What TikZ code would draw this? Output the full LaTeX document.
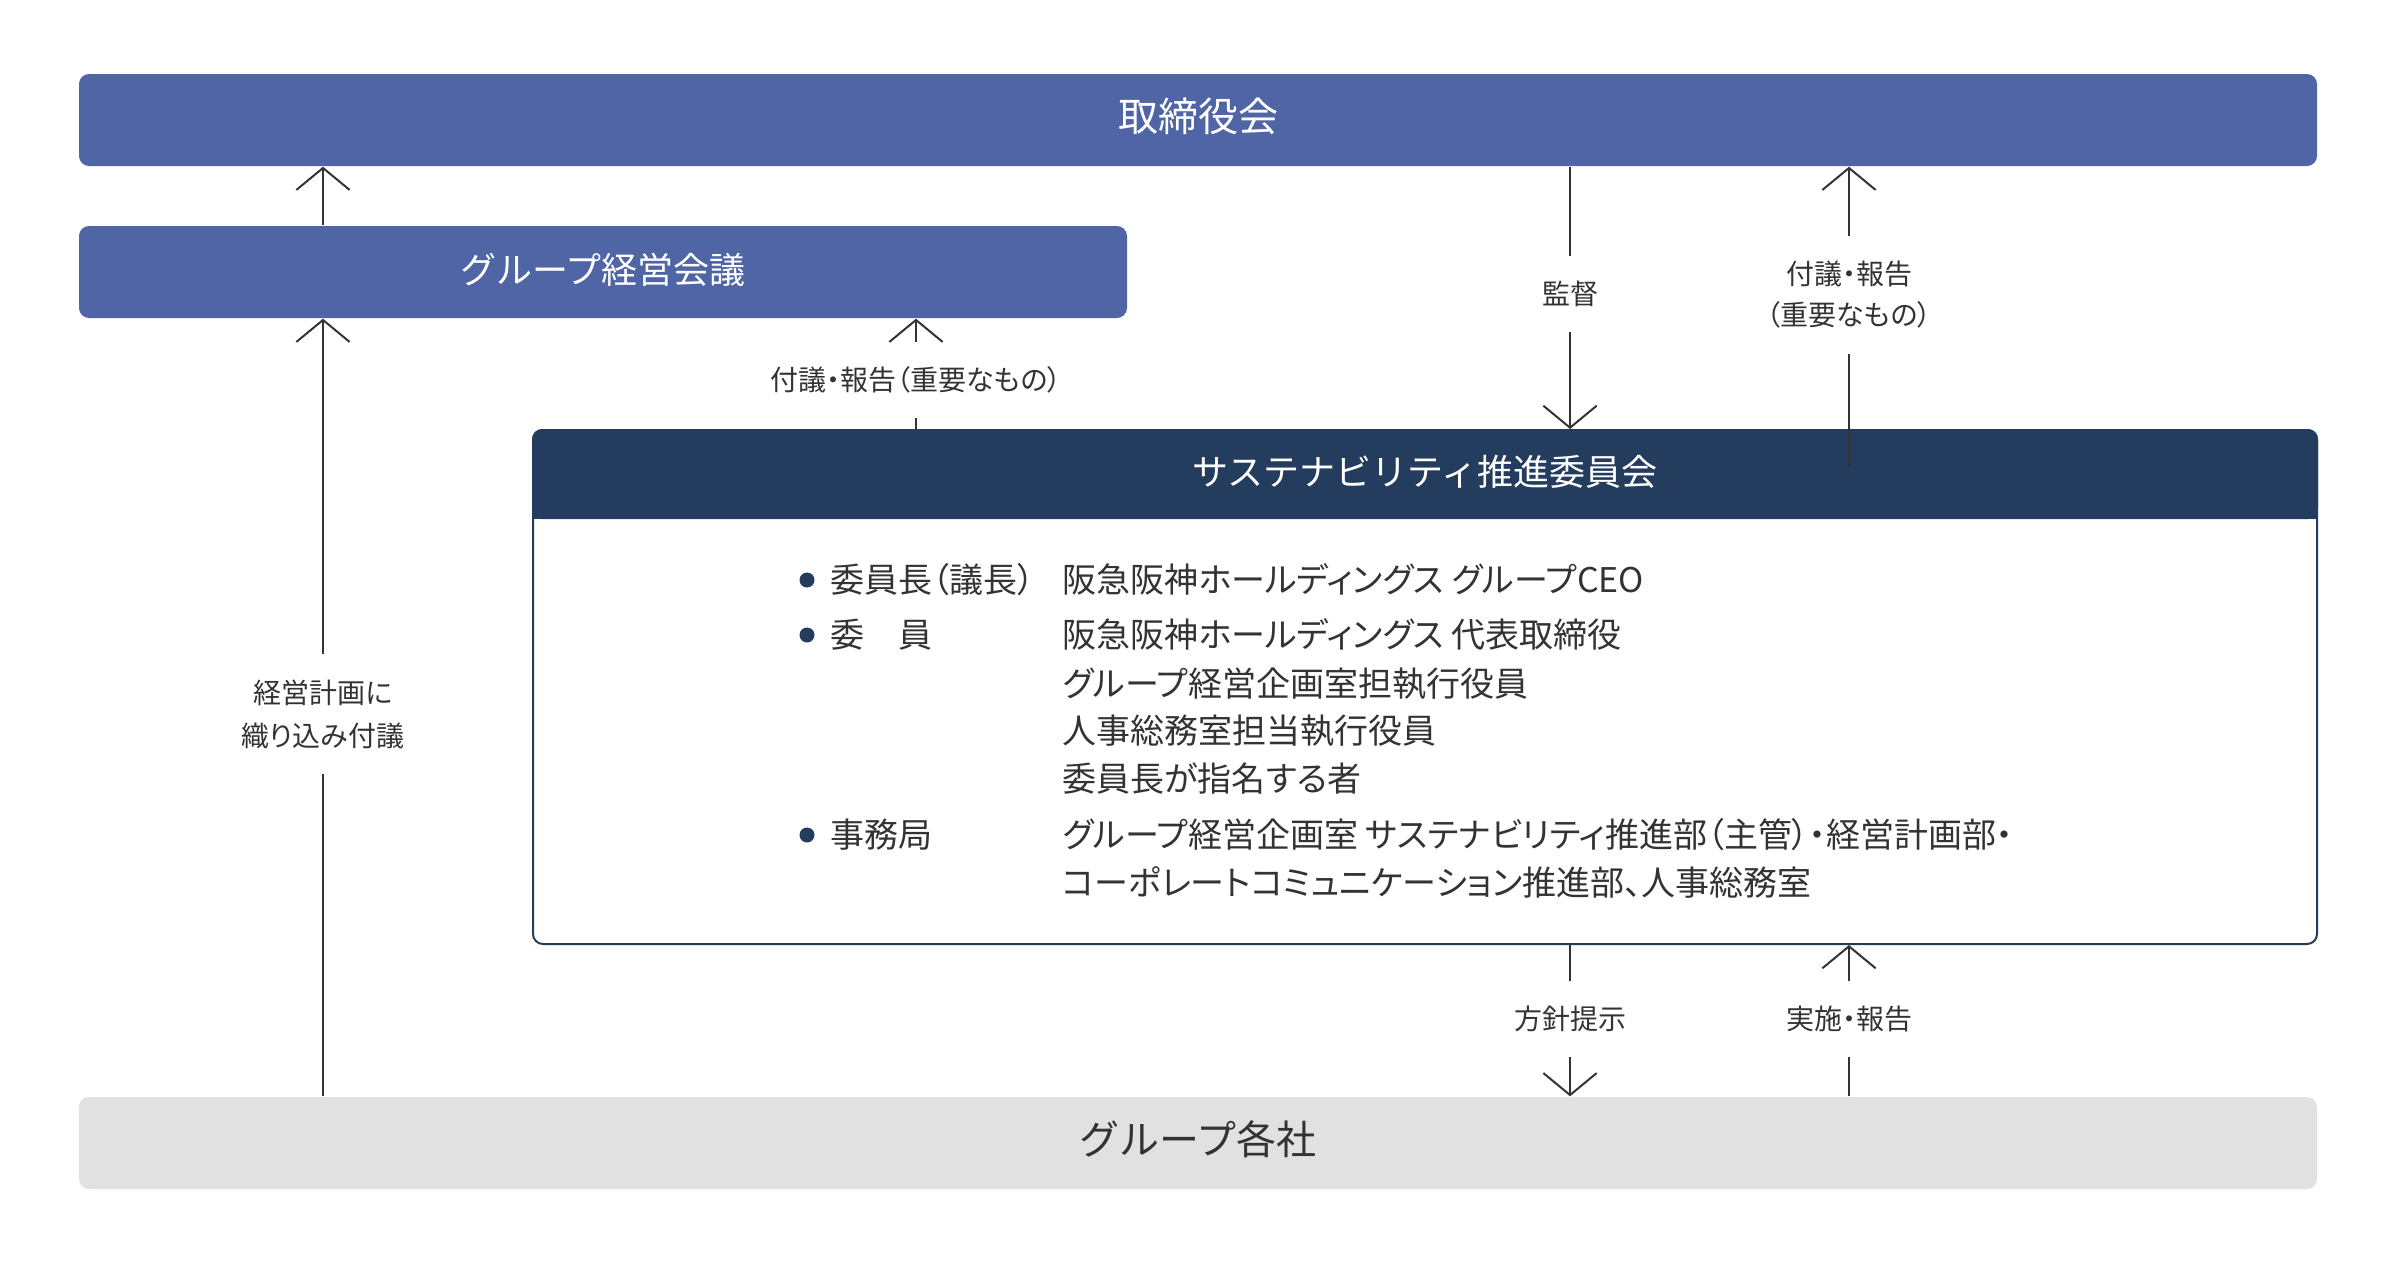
\documentclass[tikz,border=0pt]{standalone}
\usepackage{fontspec}
\setmainfont{Noto Sans CJK JP}
\newfontfamily\jp{Noto Sans CJK JP}
\newfontfamily\jpp[RawFeature=+palt]{Noto Sans CJK JP}
\usetikzlibrary{arrows.meta}
\definecolor{cblue}{HTML}{4F65A5}
\definecolor{cnavy}{HTML}{243C5E}
\definecolor{cgray}{HTML}{E1E1E1}
\definecolor{ctext}{HTML}{333333}
\definecolor{cline}{HTML}{333333}
\tikzset{
  bigbox/.style={rounded corners=3pt, minimum height=27.6pt, inner sep=0pt,
    text height=0.81em, text depth=0.11em},
  bluebox/.style={bigbox, fill=cblue, text=white},
  graybox/.style={bigbox, fill=cgray, text=ctext, font=\jp\fontsize{12}{14}\selectfont},
  lbl/.style={font=\jpp\fontsize{8.4}{12.6}\selectfont, text=ctext, inner xsep=0pt,
    inner ysep=7.3pt, align=center},
  bodytxt/.style={font=\jpp\fontsize{10.2}{12}\selectfont, text=ctext, inner sep=0pt,
    anchor=west, text height=0.84em, text depth=0.08em},
  dot/.style={circle, fill=cnavy, minimum size=4.5pt, inner sep=0pt},
  ln/.style={draw=cline, line width=0.6pt},
  arr/.style={ln, -{Straight Barb[length=6.6pt,width=16pt]}},
}
\begin{document}
\begin{tikzpicture}[x=0.3pt,y=-0.3pt]
\useasboundingbox (0,0) rectangle (2400,1262);
% boxes
\node[bluebox, minimum width=671.4pt, font=\jp\fontsize{12}{14}\selectfont] (board) at (1198,120) {取締役会};
\node[bluebox, minimum width=314.4pt, font=\jp\fontsize{10.8}{13}\selectfont] (gm) at (603,272) {グループ経営会議};
\node[draw=cnavy, fill=white, line width=0.6pt, rounded corners=3pt, minimum width=535.2pt,
  minimum height=154.2pt, inner sep=0pt] (sbox) at (1425,687) {};
\fill[cnavy, rounded corners=3pt] (532,429) rectangle (2318,519);
\fill[cnavy] (532,490) rectangle (2318,519);
\node[text=white, inner sep=0pt, font=\jp\fontsize{10.8}{13}\selectfont,
  text height=0.81em, text depth=0.11em] (sus) at (1425,474) {サステナビリティ推進委員会};
\node[graybox, minimum width=671.4pt] (gk) at (1198,1143) {グループ各社};
% body
\node[dot] (d1) at (807,580) {};
\node[dot] (d2) at (807,635) {};
\node[dot] (d3) at (807,835) {};
\node[bodytxt] (k1) at (830,580) {委員長（議長）};
\node[bodytxt] (k2) at (830,635) {委　員};
\node[bodytxt] (k3) at (830,835) {事務局};
\node[bodytxt] (v1) at (1062,580) {阪急阪神ホールディングス グループCEO};
\node[bodytxt] (v2) at (1062,635) {阪急阪神ホールディングス 代表取締役};
\node[bodytxt] (v3) at (1062,684) {グループ経営企画室担執行役員};
\node[bodytxt] (v4) at (1062,731) {人事総務室担当執行役員};
\node[bodytxt] (v5) at (1062,779) {委員長が指名する者};
\node[bodytxt] (v6) at (1062,835) {グループ経営企画室 サステナビリティ推進部（主管）・経営計画部・};
\node[bodytxt] (v7) at (1062,883) {コーポレートコミュニケーション推進部、人事総務室};
% connector columns
\coordinate (xL) at (323,0);
\coordinate (xG) at (916,0);
\coordinate (xS) at (1570,0);
\coordinate (xR) at (1849,0);
\coordinate (rEnd) at (1849,466);
% labels
\node[lbl, font=\jpp\fontsize{8.4}{12.9}\selectfont] (lL) at (323,714) {経営計画に\\織り込み付議};
\node[lbl] (lG) at (916,380) {付議・報告（重要なもの）};
\node[lbl] (lS) at (1570,294) {監督};
\node[lbl, font=\jpp\fontsize{8.4}{12.3}\selectfont] (lR) at (1849,295) {付議・報告\\（重要なもの）};
\node[lbl] (lB1) at (1570,1019) {方針提示};
\node[lbl] (lB2) at (1849,1019) {実施・報告};
% connectors
\draw[arr] (gm.north -| xL) -- (board.south -| xL);
\draw[ln] (gk.north -| xL) -- (lL.south);
\draw[arr] (lL.north) -- (gm.south -| xL);
\draw[ln] (sbox.north -| xG) -- (lG.south);
\draw[arr] (lG.north) -- (gm.south -| xG);
\draw[ln] (board.south -| xS) -- (lS.north);
\draw[arr] (lS.south) -- (sbox.north -| xS);
\draw[arr] (lR.north) -- (board.south -| xR);
\draw[ln] (lR.south) -- (rEnd);
\draw[ln] (sbox.south -| xS) -- (lB1.north);
\draw[arr] (lB1.south) -- (gk.north -| xS);
\draw[arr] (lB2.north) -- (sbox.south -| xR);
\draw[ln] (gk.north -| xR) -- (lB2.south);
\end{tikzpicture}
\end{document}
